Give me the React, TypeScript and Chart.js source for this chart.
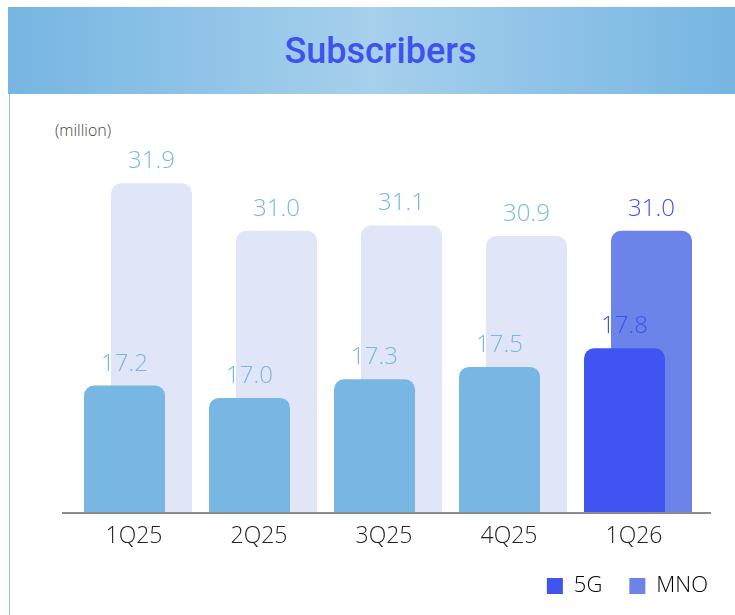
import React, { useEffect, useRef } from "react";
import { Chart, registerables } from "chart.js";

Chart.register(...registerables);

const categories = ["1Q25", "2Q25", "3Q25", "4Q25", "1Q26"];
const fiveG = [17.2, 17.0, 17.3, 17.5, 17.8];
const mno = [31.9, 31.0, 31.1, 30.9, 31.0];
const fiveGLabels = ["17.2", "17.0", "17.3", "17.5", "17.8"];
const mnoLabels = ["31.9", "31.0", "31.1", "30.9", "31.0"];
const seriesNames = ["5G", "MNO"];

const C5G = "#78b7e3";
const C5G_HI = "#4054f2";
const CMNO = "#e1e5f8";
const CMNO_HI = "#6c84ea";
const LBL = "#78b7e4";
const LBL_HI = "#3d52ef";
const FONT = "'Open Sans', 'Liberation Sans', sans-serif";

const valueLabelPlugin = {
  id: "valueLabels",
  afterDatasetsDraw(chart: any) {
    const ctx = chart.ctx;
    const { chartArea } = chart;
    ctx.save();
    ctx.strokeStyle = "#8c8c8c";
    ctx.lineWidth = 2;
    ctx.beginPath();
    ctx.moveTo(chartArea.left - 13.5, chartArea.bottom);
    ctx.lineTo(chartArea.right + 10.5, chartArea.bottom);
    ctx.stroke();
    ctx.restore();

    const texts = [fiveGLabels, mnoLabels];
    ctx.save();
    ctx.font = "300 24px " + FONT;
    ctx.textAlign = "center";
    ctx.textBaseline = "alphabetic";
    chart.data.datasets.forEach((ds: any, di: number) => {
      const meta = chart.getDatasetMeta(di);
      meta.data.forEach((bar: any, i: number) => {
        ctx.fillStyle = i === categories.length - 1 ? LBL_HI : LBL;
        ctx.fillText(texts[di][i], bar.x, bar.y - 15);
      });
    });
    ctx.restore();
  },
};

export default function App() {
  const ref = useRef<HTMLCanvasElement>(null);

  useEffect(() => {
    if (!ref.current) return;
    const last = categories.length - 1;
    const chart = new Chart(ref.current, {
      type: "bar",
      data: {
        labels: categories,
        datasets: [
          {
            label: seriesNames[0],
            data: fiveG,
            yAxisID: "y",
            backgroundColor: fiveG.map((_, i) => (i === last ? C5G_HI : C5G)),
            borderRadius: 10,
            borderSkipped: "start",
            categoryPercentage: 0.432,
            barPercentage: 3.0,
          },
          {
            label: seriesNames[1],
            data: mno,
            yAxisID: "y1",
            backgroundColor: mno.map((_, i) => (i === last ? CMNO_HI : CMNO)),
            borderRadius: 10,
            borderSkipped: "start",
            categoryPercentage: 0.432,
            barPercentage: 3.0,
          },
        ],
      },
      options: {
        responsive: false,
        animation: false,
        layout: { padding: { left: 75.5, right: 0, top: 26, bottom: 8 } },
        scales: {
          x: {
            grid: { display: false, drawTicks: false },
            border: { display: false },
            ticks: {
              color: "#222",
              font: { family: FONT, size: 23, weight: "300" },
              padding: 10,
              labelOffset: -4,
            },
            afterFit: (s: any) => {
              s.height = 35;
            },
          },
          y: {
            display: false,
            min: 15.145,
            max: 21.48,
          },
          y1: {
            position: "right",
            display: true,
            min: 25.646,
            max: 33.1,
            grid: { display: false, drawTicks: false },
            border: { display: false },
            ticks: { display: false },
            afterFit: (s: any) => {
              s.width = 34.5;
            },
          },
        },
        plugins: {
          tooltip: { enabled: false },
          legend: {
            position: "bottom",
            align: "end",
            labels: {
              padding: 27,
              boxWidth: 16,
              boxHeight: 16,
              color: "#222",
              font: { family: FONT, size: 22, weight: "300" },
              generateLabels: () => [
                { text: seriesNames[0], fillStyle: C5G_HI, strokeStyle: C5G_HI, lineWidth: 0, datasetIndex: 0 },
                { text: seriesNames[1], fillStyle: CMNO_HI, strokeStyle: CMNO_HI, lineWidth: 0, datasetIndex: 1 },
              ],
            },
          },
        },
      },
      plugins: [valueLabelPlugin],
    } as any);
    return () => chart.destroy();
  }, []);

  return (
    <div style={{ position: "fixed", left: 0, top: 0, width: 735, height: 615, background: "#fff", overflow: "hidden" }}>
      <div
        style={{
          position: "absolute",
          left: 8,
          top: 7,
          width: 727,
          height: 87,
          background: "linear-gradient(to right, #77b5e2 0%, #a6d0ec 50%, #77b5e2 100%)",
          display: "flex",
          alignItems: "center",
          justifyContent: "center",
          paddingLeft: 18,
          boxSizing: "border-box",
        }}
      >
        <span style={{ fontFamily: "Roboto, sans-serif", fontWeight: 500, fontSize: 36, color: "#3f52f0", lineHeight: "36px" }}>
          Subscribers
        </span>
      </div>
      <div style={{ position: "absolute", left: 9, top: 94, width: 1, height: 521, background: "#8fc4ea" }} />
      <div
        style={{
          position: "absolute",
          left: 55,
          top: 121,
          fontFamily: FONT,
          fontWeight: 300,
          fontSize: 16,
          lineHeight: "18px",
          color: "#444",
        }}
      >
        (million)
      </div>
      <canvas ref={ref} width={735} height={521} style={{ position: "absolute", left: 0, top: 94 }} />
    </div>
  );
}
